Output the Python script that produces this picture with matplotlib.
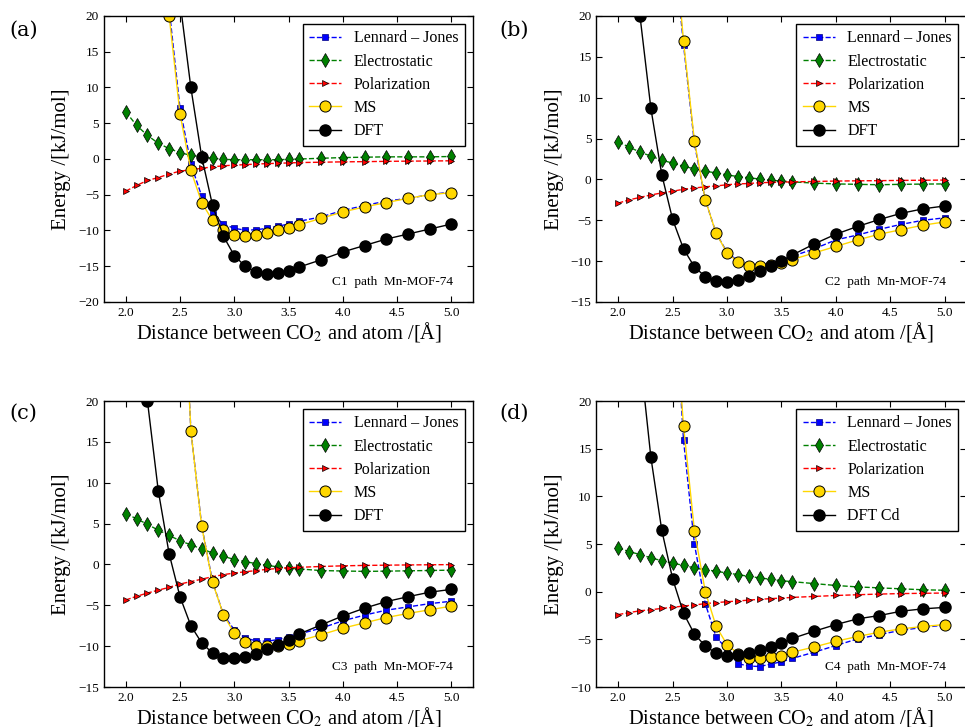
import matplotlib
matplotlib.use("Agg")
import matplotlib.pyplot as plt

# distances (Angstrom), shared by all four paths
dist = [2.0, 2.1, 2.2, 2.3, 2.4, 2.5, 2.6, 2.7, 2.8, 2.9, 3.0, 3.1, 3.2, 3.3,
        3.4, 3.5, 3.6, 3.8, 4.0, 4.2, 4.4, 4.6, 4.8, 5.0]

# (a) C1 path
lj_a = [400, 200, 90, 40, 21, 7.1, -0.7, -5.2, -7.7, -9.1, -9.7, -9.95, -9.9, -9.7,
        -9.4, -9.1, -8.7, -8.1, -7.2, -6.5, -5.9, -5.5, -5.0, -4.6]
elec_a = [6.6, 4.7, 3.3, 2.2, 1.45, 0.9, 0.5, 0.3, 0.1, -0.05, -0.1, -0.1, -0.1, -0.1,
          -0.1, -0.05, 0.0, 0.1, 0.2, 0.25, 0.3, 0.3, 0.3, 0.35]
pol_a = [-4.5, -3.7, -3.0, -2.6, -2.1, -1.7, -1.5, -1.3, -1.1, -0.95, -0.85, -0.8, -0.7, -0.65,
         -0.6, -0.55, -0.5, -0.45, -0.4, -0.37, -0.33, -0.3, -0.28, -0.25]
ms_a = [400, 200, 90, 45, 20.0, 6.3, -1.6, -6.1, -8.6, -10.0, -10.6, -10.8, -10.65, -10.4,
        -10.0, -9.6, -9.2, -8.3, -7.4, -6.7, -6.1, -5.5, -5.0, -4.7]
dft_a = [300, 150, 80, 45, 30, 22, 10.0, 0.3, -6.5, -10.8, -13.5, -15.0, -15.8, -16.1,
         -15.9, -15.65, -15.1, -14.1, -13.0, -12.1, -11.2, -10.5, -9.8, -9.1]

# (b) C2 path
lj_b = [900, 400, 180, 90, 50, 30, 16.5, 4.4, -2.5, -6.6, -8.9, -10.0, -10.5, -10.5,
        -10.2, -9.9, -9.4, -8.5, -7.4, -6.8, -6.1, -5.5, -5.0, -4.7]
elec_b = [4.6, 3.95, 3.35, 2.85, 2.35, 2.0, 1.6, 1.3, 1.0, 0.8, 0.55, 0.35, 0.2, 0.05,
          -0.1, -0.2, -0.3, -0.45, -0.55, -0.6, -0.65, -0.6, -0.57, -0.55]
pol_b = [-2.9, -2.5, -2.2, -1.9, -1.65, -1.45, -1.2, -1.05, -0.9, -0.8, -0.65, -0.55, -0.5, -0.4,
         -0.37, -0.33, -0.3, -0.25, -0.2, -0.17, -0.15, -0.12, -0.1, -0.08]
ms_b = [900, 400, 180, 90, 55, 32, 16.9, 4.7, -2.5, -6.6, -9.0, -10.1, -10.6, -10.6,
        -10.5, -10.2, -9.8, -9.0, -8.2, -7.4, -6.7, -6.15, -5.6, -5.2]
dft_b = [120, 50, 20.0, 8.7, 0.6, -4.9, -8.5, -10.7, -11.9, -12.4, -12.5, -12.3, -11.8, -11.2,
         -10.55, -9.95, -9.25, -7.9, -6.7, -5.75, -4.9, -4.15, -3.6, -3.25]

# (c) C3 path
lj_c = [900, 400, 180, 100, 70, 45, 16.4, 4.7, -2.1, -6.15, -8.0, -9.0, -9.35, -9.4,
        -9.2, -8.85, -8.5, -7.8, -6.9, -6.2, -5.6, -5.2, -4.8, -4.5]
elec_c = [6.2, 5.6, 4.9, 4.2, 3.55, 2.9, 2.4, 1.9, 1.4, 1.0, 0.6, 0.35, 0.1, -0.1,
          -0.3, -0.45, -0.55, -0.75, -0.8, -0.85, -0.82, -0.78, -0.74, -0.7]
pol_c = [-4.35, -3.9, -3.5, -3.15, -2.8, -2.4, -2.1, -1.8, -1.5, -1.25, -1.05, -0.9, -0.75, -0.6,
         -0.5, -0.4, -0.35, -0.25, -0.17, -0.12, -0.09, -0.06, -0.04, -0.02]
ms_c = [900, 400, 180, 100, 70, 45, 16.35, 4.65, -2.2, -6.15, -8.4, -9.5, -9.95, -10.0,
        -10.0, -9.75, -9.35, -8.6, -7.8, -7.15, -6.5, -6.0, -5.55, -5.1]
dft_c = [120, 50, 20.0, 9.0, 1.3, -3.95, -7.5, -9.6, -10.85, -11.4, -11.5, -11.3, -10.9, -10.35,
         -9.8, -9.2, -8.5, -7.4, -6.3, -5.35, -4.55, -3.95, -3.4, -3.05]

# (d) C4 path
lj_d = [900, 400, 180, 100, 60, 35, 15.9, 5.0, -1.25, -4.8, -6.0, -7.55, -7.8, -7.85,
        -7.6, -7.35, -7.0, -6.35, -5.65, -4.95, -4.5, -4.05, -3.75, -3.5]
elec_d = [4.6, 4.2, 3.9, 3.55, 3.25, 3.0, 2.75, 2.5, 2.3, 2.15, 1.95, 1.8, 1.6, 1.45,
          1.3, 1.15, 1.05, 0.85, 0.65, 0.5, 0.4, 0.3, 0.2, 0.15]
pol_d = [-2.4, -2.2, -2.0, -1.9, -1.75, -1.65, -1.5, -1.4, -1.25, -1.15, -1.05, -0.98, -0.88, -0.8,
         -0.73, -0.67, -0.6, -0.5, -0.4, -0.32, -0.25, -0.2, -0.17, -0.14]
ms_d = [900, 400, 180, 100, 60, 32.7, 17.4, 6.4, 0.0, -3.65, -5.55, -6.5, -6.95, -7.0,
        -6.9, -6.7, -6.35, -5.8, -5.2, -4.7, -4.25, -3.9, -3.65, -3.45]
dft_d = [100, 50, 24.8, 14.1, 6.45, 1.35, -2.25, -4.45, -5.7, -6.45, -6.7, -6.6, -6.45, -6.15,
         -5.8, -5.4, -4.9, -4.15, -3.45, -2.85, -2.5, -2.05, -1.8, -1.65]

panels = [
    ("(a)", "C1  path  Mn-MOF-74", "DFT", (-20, 20), lj_a, elec_a, pol_a, ms_a, dft_a),
    ("(b)", "C2  path  Mn-MOF-74", "DFT", (-15, 20), lj_b, elec_b, pol_b, ms_b, dft_b),
    ("(c)", "C3  path  Mn-MOF-74", "DFT", (-15, 20), lj_c, elec_c, pol_c, ms_c, dft_c),
    ("(d)", "C4  path  Mn-MOF-74", "DFT Cd", (-10, 20), lj_d, elec_d, pol_d, ms_d, dft_d),
]

plt.rcParams.update({
    "font.family": ["Liberation Serif", "DejaVu Serif"],
    "mathtext.fontset": "stix",
    "xtick.direction": "in", "ytick.direction": "in",
    "xtick.top": True, "ytick.right": True,
    "xtick.major.size": 4, "ytick.major.size": 4,
    "xtick.labelsize": 9.5, "ytick.labelsize": 9.5,
    "axes.linewidth": 1.0,
})

fig = plt.figure(figsize=(9.65, 7.27), dpi=100)
rects = [[0.1078, 0.5846, 0.3824, 0.3934], [0.6181, 0.5846, 0.3834, 0.3934],
         [0.1078, 0.0550, 0.3824, 0.3934], [0.6181, 0.0550, 0.3834, 0.3934]]
lab_pos = [(0.010, 0.959), (0.518, 0.959), (0.010, 0.432), (0.518, 0.432)]

for (tag, note, dft_lab, ylim, lj, el, po, ms, dft), rect, lp in zip(panels, rects, lab_pos):
    ax = fig.add_axes(rect)
    ax.plot(dist, lj, "--", color="blue", lw=1, marker="s", ms=4,
            mfc="blue", mec="navy", mew=0.5, label=r"Lennard – Jones")
    ax.plot(dist, el, "--", color="green", lw=1, marker="d", ms=7,
            mfc="green", mec="black", mew=0.5, label="Electrostatic")
    ax.plot(dist, po, "--", color="red", lw=1, marker=">", ms=4,
            mfc="red", mec="black", mew=0.5, label="Polarization")
    ax.plot(dist, ms, "-", color="gold", lw=1, marker="o", ms=8,
            mfc="gold", mec="black", mew=0.7, label="MS")
    ax.plot(dist, dft, "-", color="black", lw=1, marker="o", ms=8,
            mfc="black", mec="black", label=dft_lab)
    ax.set_xlim(1.8, 5.2)
    ax.set_ylim(*ylim)
    ax.set_xticks([2.0, 2.5, 3.0, 3.5, 4.0, 4.5, 5.0])
    ax.set_xticklabels(["2.0", "2.5", "3.0", "3.5", "4.0", "4.5", "5.0"])
    ax.set_yticks(range(ylim[0], ylim[1] + 1, 5))
    ax.set_xlabel(r"Distance between CO$_2$ and atom /[Å]", fontsize=14.7, labelpad=1)
    ax.set_ylabel("Energy /[kJ/mol]", fontsize=15, labelpad=5)
    leg = ax.legend(loc="upper right", numpoints=1, fontsize=11.5, fancybox=False,
                    framealpha=1, edgecolor="black", handlelength=2.0,
                    labelspacing=0.45, borderpad=0.4)
    leg.get_frame().set_linewidth(1.0)
    ax.text(0.945, 0.07, note, transform=ax.transAxes, ha="right", va="center", fontsize=9.5)
    fig.text(lp[0], lp[1], tag, fontsize=15, family="DejaVu Serif", va="center")

fig.savefig("out.png", dpi=100)
